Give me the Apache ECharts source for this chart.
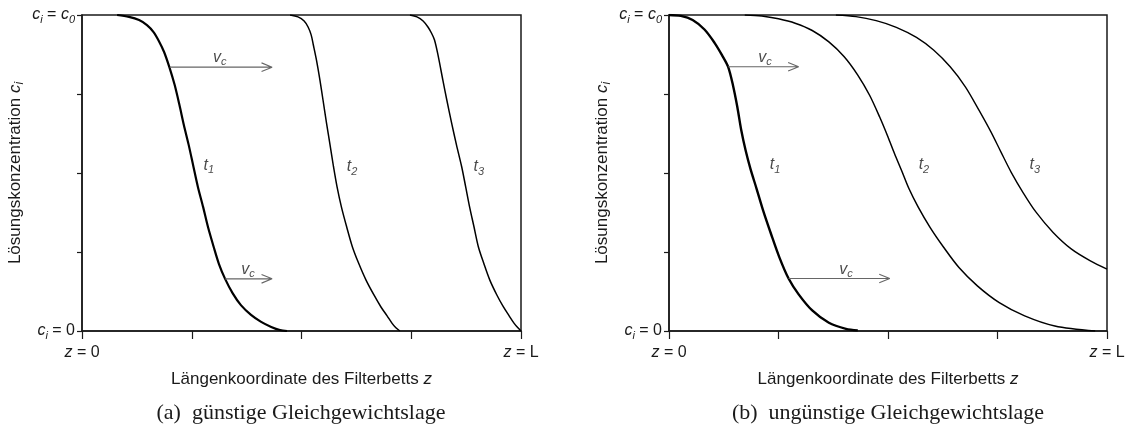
<!DOCTYPE html>
<html>
<head>
<meta charset="utf-8">
<script src="https://cdn.jsdelivr.net/npm/echarts@6/dist/echarts.min.js"></script>
<style>
  html, body { margin: 0; padding: 0; background: #fff; }
  #chart { width: 1128px; height: 433px; }
</style>
</head>
<body>
<div id="chart"></div>
<script>
// axis ticks (z/L and c/c0, both 0..1)
const zTicks = [0, 0.25, 0.5, 0.75, 1];
const cTicks = [0, 0.25, 0.5, 0.75, 1];

// (a) guenstige Gleichgewichtslage - fronts [z/L, c/c0]
const aT1 = [[0.080,1],[0.107,0.994],[0.130,0.984],[0.148,0.968],[0.163,0.946],[0.175,0.918],[0.187,0.883],[0.199,0.835],[0.211,0.779],[0.222,0.715],[0.232,0.652],[0.243,0.589],[0.254,0.519],[0.264,0.456],[0.276,0.392],[0.287,0.329],[0.300,0.266],[0.312,0.212],[0.326,0.165],[0.343,0.120],[0.362,0.082],[0.385,0.051],[0.408,0.029],[0.431,0.013],[0.451,0.003],[0.467,0]];
const aT2 = [[0.474,1],[0.492,0.994],[0.506,0.981],[0.515,0.962],[0.522,0.937],[0.527,0.905],[0.534,0.858],[0.542,0.794],[0.549,0.731],[0.557,0.658],[0.565,0.589],[0.573,0.519],[0.581,0.456],[0.591,0.392],[0.603,0.329],[0.616,0.266],[0.630,0.215],[0.647,0.161],[0.665,0.114],[0.681,0.076],[0.695,0.048],[0.706,0.025],[0.715,0.010],[0.724,0]];
const aT3 = [[0.747,1],[0.763,0.994],[0.777,0.981],[0.788,0.962],[0.796,0.943],[0.803,0.921],[0.811,0.873],[0.822,0.794],[0.831,0.731],[0.842,0.658],[0.853,0.589],[0.865,0.519],[0.874,0.456],[0.883,0.392],[0.893,0.329],[0.903,0.266],[0.915,0.215],[0.929,0.161],[0.945,0.114],[0.960,0.076],[0.973,0.048],[0.984,0.025],[0.993,0.010],[1.0,0]];
const aTLabels = [[0.289,0.525,'1'],[0.615,0.519,'2'],[0.904,0.519,'3']];
const aArrows = [[0.200,0.433,0.835],[0.326,0.433,0.165]];   // [z start, z end, c]
const aVcLabels = [[0.314,0.866],[0.378,0.195]];

// (b) unguenstige Gleichgewichtslage
const bT1 = [[0,1],[0.027,0.997],[0.054,0.984],[0.081,0.954],[0.104,0.912],[0.121,0.873],[0.135,0.836],[0.146,0.778],[0.156,0.709],[0.165,0.635],[0.175,0.571],[0.186,0.513],[0.200,0.450],[0.215,0.381],[0.233,0.307],[0.252,0.233],[0.273,0.166],[0.296,0.116],[0.327,0.065],[0.365,0.026],[0.404,0.007],[0.431,0.002]];
const bT2 = [[0.173,1],[0.212,0.997],[0.250,0.988],[0.288,0.974],[0.327,0.951],[0.365,0.915],[0.400,0.868],[0.431,0.810],[0.458,0.746],[0.481,0.677],[0.500,0.614],[0.515,0.561],[0.531,0.508],[0.548,0.450],[0.569,0.392],[0.596,0.328],[0.627,0.265],[0.662,0.201],[0.704,0.143],[0.754,0.090],[0.812,0.048],[0.881,0.016],[0.973,0]];
const bT3 = [[0.381,1],[0.427,0.995],[0.473,0.982],[0.519,0.961],[0.565,0.929],[0.604,0.889],[0.642,0.836],[0.677,0.772],[0.708,0.698],[0.735,0.630],[0.758,0.566],[0.781,0.503],[0.808,0.439],[0.838,0.376],[0.877,0.312],[0.919,0.259],[0.962,0.222],[1.0,0.196]];
const bTLabels = [[0.242,0.527,'1'],[0.582,0.527,'2'],[0.835,0.527,'3']];
const bArrows = [[0.135,0.296,0.836],[0.273,0.504,0.166]];
const bVcLabels = [[0.219,0.866],[0.404,0.196]];

const captions = ['(a)  günstige Gleichgewichtslage', '(b)  ungünstige Gleichgewichtslage'];

const SANS = '"Liberation Sans", Arial, sans-serif';
const INK = '#1a1a1a';
const rich = {
  n: { fontFamily: SANS, fontSize: 16, color: INK },
  i: { fontFamily: SANS, fontSize: 16, fontStyle: 'italic', color: INK },
  s: { fontFamily: SANS, fontSize: 11, fontStyle: 'italic', color: INK, padding: [10, 0, 0, 0] }
};
const nameRich = {
  n: { fontFamily: SANS, fontSize: 17, color: INK },
  i: { fontFamily: SANS, fontSize: 17, fontStyle: 'italic', color: INK },
  s: { fontFamily: SANS, fontSize: 12, fontStyle: 'italic', color: INK, padding: [10, 0, 0, 0] }
};

const chart = echarts.init(document.getElementById('chart'), null, { renderer: 'canvas' });

function xAxis(gi) {
  return {
    gridIndex: gi, type: 'value', min: 0, max: 1, interval: 0.25,
    name: '{n|Längenkoordinate des Filterbetts }{i|z}',
    nameLocation: 'middle', nameGap: 40,
    nameTextStyle: { rich: nameRich },
    axisLine: { lineStyle: { color: INK, width: 1.5 } },
    axisTick: { length: 8, lineStyle: { color: INK, width: 1.2 } },
    splitLine: { show: false },
    axisLabel: {
      margin: 14, showMinLabel: true, showMaxLabel: true,
      formatter: v => v === 0 ? '{i|z}{n| = 0}' : (v === 1 ? '{i|z}{n| = L}' : ''),
      rich: rich
    }
  };
}
function yAxis(gi) {
  return {
    gridIndex: gi, type: 'value', min: 0, max: 1, interval: 0.25,
    name: '{n|Lösungskonzentration }{i|c}{s|i}',
    nameLocation: 'middle', nameGap: 56, nameRotate: 90,
    nameTextStyle: { rich: nameRich },
    axisLine: { lineStyle: { color: INK, width: 1.5 } },
    axisTick: { length: 5, lineStyle: { color: INK, width: 1.2 } },
    splitLine: { show: false },
    axisLabel: {
      margin: 7, showMinLabel: true, showMaxLabel: true,
      formatter: v => v === 0 ? '{i|c}{s|i}{n| = 0}' : (v === 1 ? '{i|c}{s|i}{n| = }{i|c}{s|0}' : ''),
      rich: rich
    }
  };
}

function curve(gi, data, w) {
  return {
    type: 'line', xAxisIndex: gi, yAxisIndex: gi, data: data,
    smooth: 0.3, showSymbol: false, silent: true,
    lineStyle: { color: '#000', width: w }
  };
}
function arrow(gi, a) {
  const hx = 0.024, hy = 0.0135;
  const pts = [[a[0], a[2]], [a[1], a[2]], [a[1] - hx, a[2] + hy], [a[1], a[2]], [a[1] - hx, a[2] - hy]];
  return {
    type: 'line', xAxisIndex: gi, yAxisIndex: gi, data: pts,
    showSymbol: false, silent: true,
    lineStyle: { color: '#666', width: 1.1 }
  };
}
function labels(gi, tl, vc) {
  const data = tl.map(d => ({ value: [d[0], d[1]], lab: '{i|t}{s|' + d[2] + '}' }))
    .concat(vc.map(d => ({ value: [d[0], d[1]], lab: '{i|v}{s|c}' })));
  return {
    type: 'scatter', xAxisIndex: gi, yAxisIndex: gi, data: data,
    symbolSize: 0, silent: true,
    label: { show: true, position: 'inside', formatter: p => p.data.lab, rich: rich }
  };
}

const series = [
  curve(0, aT1, 2.2), curve(0, aT2, 1.5), curve(0, aT3, 1.5),
  curve(1, bT1, 2.4), curve(1, bT2, 1.5), curve(1, bT3, 1.4)
];
aArrows.forEach(a => series.push(arrow(0, a)));
bArrows.forEach(a => series.push(arrow(1, a)));
series.push(labels(0, aTLabels, aVcLabels));
series.push(labels(1, bTLabels, bVcLabels));

chart.setOption({
  animation: false,
  backgroundColor: '#fff',
  grid: [
    { left: 82, right: 607, top: 15, bottom: 102, show: true, borderColor: INK, borderWidth: 1.5 },
    { left: 669, right: 21, top: 15, bottom: 102, show: true, borderColor: INK, borderWidth: 1.5 }
  ],
  xAxis: [xAxis(0), xAxis(1)],
  yAxis: [yAxis(0), yAxis(1)],
  series: series,
  graphic: [
    { type: 'text', x: 301, y: 413, style: { text: captions[0], font: '22px "Liberation Serif", serif', fill: INK, align: 'center', verticalAlign: 'middle', textAlign: 'center', textVerticalAlign: 'middle' } },
    { type: 'text', x: 888, y: 413, style: { text: captions[1], font: '22px "Liberation Serif", serif', fill: INK, align: 'center', verticalAlign: 'middle', textAlign: 'center', textVerticalAlign: 'middle' } }
  ]
});
</script>
</body>
</html>
